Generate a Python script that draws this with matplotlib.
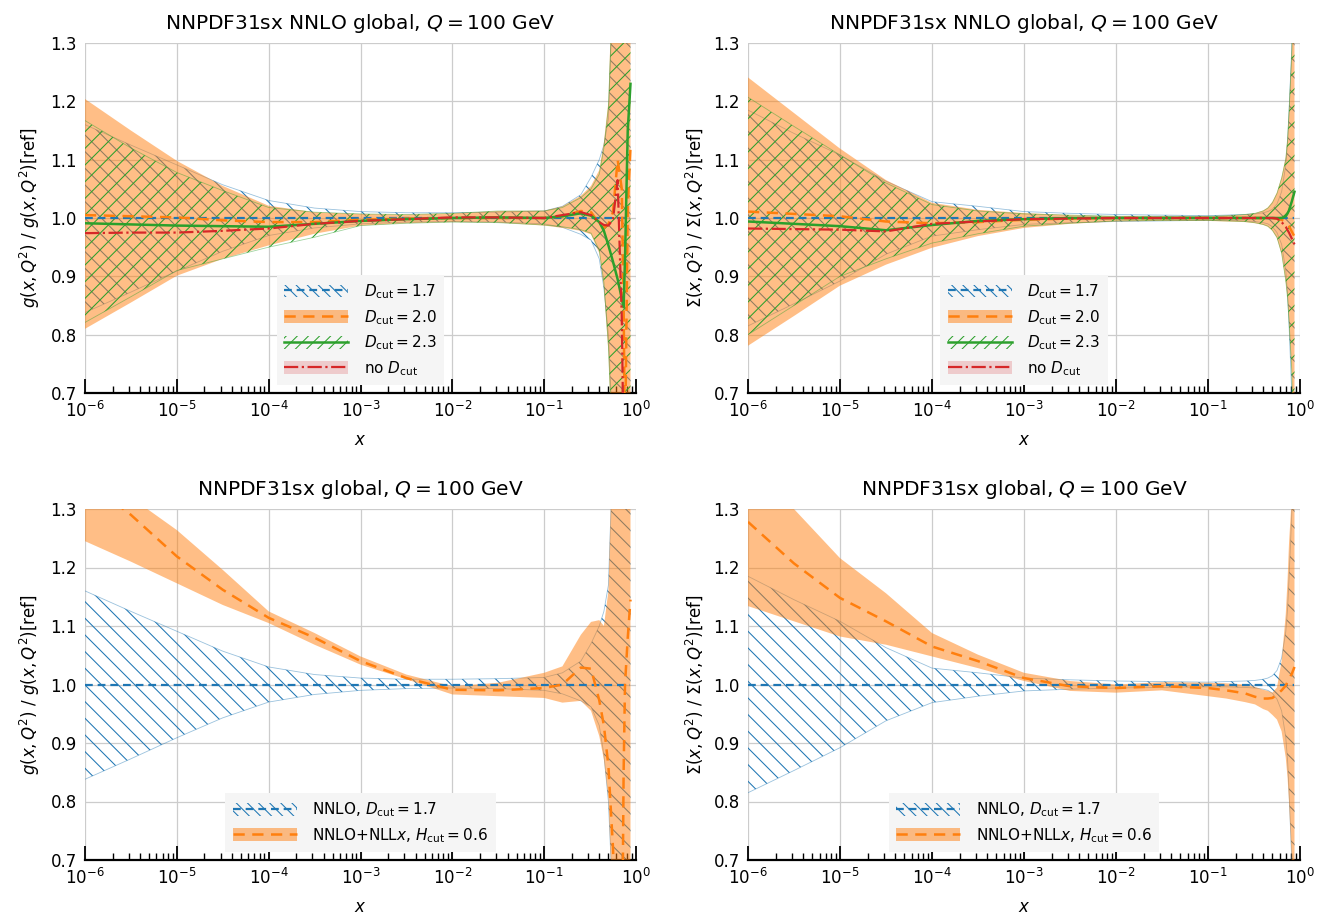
import numpy as np
import matplotlib
matplotlib.use("Agg")
import matplotlib.pyplot as plt
from matplotlib.patches import Patch
from matplotlib.lines import Line2D
from matplotlib.ticker import NullFormatter, FixedLocator

plt.rcParams['font.family'] = ['DejaVu Sans']
plt.rcParams['mathtext.fontset'] = 'dejavusans'
plt.rcParams['hatch.linewidth'] = 0.75

# ---------------- data ----------------
X = [1e-6, 3.16e-6, 1e-5, 3.16e-5, 1e-4, 3.16e-4, 1e-3, 3.16e-3, 1e-2, 3.16e-2,
     0.1, 0.158, 0.251, 0.324, 0.398, 0.447, 0.501, 0.562, 0.631, 0.700,
     0.733, 0.759, 0.813, 0.871]

# gluon, NNLO Dcut=1.7 (reference)
G17_c = [1.0] * 24
G17_hi = [1.160, 1.125, 1.091, 1.057, 1.030, 1.017, 1.011, 1.009, 1.009, 1.010,
          1.012, 1.020, 1.040, 1.070, 1.100, 1.125, 1.170, 1.400, 1.700, 2.0,
          2.2, 2.4, 2.8, 3.2]
G17_lo = [0.838, 0.873, 0.909, 0.943, 0.970, 0.983, 0.990, 0.993, 0.994, 0.993,
          0.990, 0.984, 0.972, 0.962, 0.930, 0.880, 0.800, 0.620, 0.400, 0.2,
          0.1, 0.0, -0.3, -0.6]
# gluon, NNLO Dcut=2.0
G20_c = [1.005, 1.003, 1.001, 0.996, 0.993, 0.993, 0.997, 0.999, 1.000, 1.000,
         1.000, 1.003, 1.012, 1.010, 0.990, 0.983, 0.990, 1.010, 1.100, 1.050,
         0.850, 0.600, 1.020, 1.120]
G20_hi = [1.204, 1.150, 1.098, 1.055, 1.021, 1.010, 1.007, 1.006, 1.008, 1.012,
          1.0125, 1.020, 1.038, 1.055, 1.082, 1.130, 1.200, 1.450, 1.700, 2.0,
          2.2, 2.4, 2.8, 3.2]
G20_lo = [0.810, 0.855, 0.901, 0.930, 0.953, 0.973, 0.987, 0.991, 0.993, 0.992,
          0.987, 0.983, 0.978, 0.972, 0.940, 0.880, 0.770, 0.550, 0.300, 0.0,
          -0.2, -0.4, -0.8, -1.2]
# gluon, NNLO Dcut=2.3
G23_c = [0.991, 0.989, 0.987, 0.986, 0.985, 0.990, 0.995, 0.998, 1.000, 1.001,
         1.000, 1.003, 1.008, 1.004, 0.993, 0.978, 0.953, 0.925, 0.895, 0.862,
         0.847, 0.930, 1.150, 1.230]
G23_hi = [1.167, 1.120, 1.078, 1.047, 1.018, 1.010, 1.007, 1.006, 1.008, 1.012,
          1.012, 1.018, 1.035, 1.050, 1.075, 1.120, 1.190, 1.400, 1.650, 1.9,
          2.1, 2.3, 2.7, 3.1]
G23_lo = [0.821, 0.865, 0.910, 0.930, 0.950, 0.967, 0.987, 0.991, 0.993, 0.992,
          0.988, 0.985, 0.980, 0.974, 0.945, 0.890, 0.780, 0.580, 0.350, 0.05,
          -0.15, -0.35, -0.75, -1.1]
# gluon, NNLO no Dcut
GN_c = [0.974, 0.975, 0.975, 0.978, 0.982, 0.990, 0.995, 0.998, 1.001, 1.001,
        1.000, 1.005, 1.010, 1.005, 0.993, 0.988, 0.987, 0.998, 1.065, 0.830,
        0.600, 0.450, 0.400, 0.450]
# gluon, NNLO+NLLx Hcut=0.6
GX_c = [1.350, 1.290, 1.219, 1.162, 1.114, 1.080, 1.040, 1.011, 0.991, 0.990,
        0.994, 1.000, 1.029, 1.027, 0.973, 0.930, 0.860, 0.720, 0.500, 0.450,
        0.850, 1.000, 1.080, 1.145]
GX_hi = [1.380, 1.320, 1.264, 1.196, 1.125, 1.088, 1.048, 1.017, 0.997, 1.003,
         1.020, 1.031, 1.085, 1.107, 1.110, 1.100, 1.160, 1.450, 1.700, 2.0,
         2.2, 2.4, 2.8, 3.2]
GX_lo = [1.245, 1.210, 1.173, 1.136, 1.105, 1.068, 1.034, 1.009, 0.983, 0.980,
         0.977, 0.969, 0.972, 0.955, 0.912, 0.872, 0.804, 0.600, 0.300, 0.0,
         -0.2, -0.4, -0.8, -1.2]

# singlet, NNLO Dcut=1.7 (reference)
S17_c = [1.0] * 24
S17_hi = [1.185, 1.145, 1.108, 1.063, 1.028, 1.020, 1.011, 1.008, 1.006, 1.005,
          1.004, 1.005, 1.006, 1.007, 1.009, 1.011, 1.015, 1.024, 1.045, 1.090,
          1.130, 1.180, 1.290, 1.500]
S17_lo = [0.815, 0.853, 0.892, 0.938, 0.969, 0.980, 0.989, 0.992, 0.994, 0.995,
          0.996, 0.996, 0.995, 0.994, 0.992, 0.990, 0.985, 0.975, 0.955, 0.910,
          0.870, 0.820, 0.700, 0.500]
S20_c = [1.011, 1.007, 1.003, 0.994, 0.991, 0.993, 0.997, 0.999, 1.000, 1.000,
         1.000, 1.000, 1.000, 1.000, 1.000, 1.000, 1.000, 0.999, 0.997, 0.993,
         0.989, 0.986, 0.977, 0.968]
S20_hi = [1.241, 1.180, 1.119, 1.065, 1.026, 1.014, 1.0085, 1.005, 1.003, 1.003,
          1.003, 1.004, 1.006, 1.008, 1.013, 1.018, 1.028, 1.044, 1.070, 1.105,
          1.140, 1.185, 1.290, 1.500]
S20_lo = [0.781, 0.832, 0.884, 0.920, 0.949, 0.969, 0.983, 0.990, 0.994, 0.995,
          0.995, 0.994, 0.993, 0.991, 0.988, 0.985, 0.978, 0.965, 0.938, 0.890,
          0.860, 0.820, 0.730, 0.500]
S23_c = [0.994, 0.990, 0.986, 0.979, 0.988, 0.995, 0.998, 1.000, 1.000, 1.000,
         1.000, 1.000, 1.000, 1.000, 1.000, 1.000, 1.000, 1.000, 1.000, 1.003,
         1.008, 1.013, 1.028, 1.045]
S23_hi = [1.207, 1.157, 1.108, 1.060, 1.023, 1.012, 1.007, 1.005, 1.003, 1.003,
          1.003, 1.004, 1.006, 1.008, 1.012, 1.017, 1.026, 1.042, 1.068, 1.100,
          1.135, 1.180, 1.280, 1.500]
S23_lo = [0.800, 0.850, 0.900, 0.930, 0.957, 0.973, 0.986, 0.991, 0.995, 0.996,
          0.996, 0.995, 0.994, 0.992, 0.989, 0.986, 0.979, 0.967, 0.940, 0.893,
          0.862, 0.825, 0.740, 0.500]
SN_c = [0.982, 0.981, 0.980, 0.977, 0.990, 0.994, 0.998, 0.999, 1.000, 1.000,
        1.000, 1.000, 1.000, 1.000, 1.000, 1.000, 1.000, 0.999, 0.993, 0.985,
        0.979, 0.975, 0.965, 0.955]
SX_c = [1.278, 1.207, 1.148, 1.108, 1.065, 1.040, 1.011, 0.997, 0.994, 0.997,
        0.994, 0.990, 0.985, 0.979, 0.976, 0.976, 0.977, 0.983, 0.990, 0.998,
        1.005, 1.010, 1.018, 1.030]
SX_hi = [1.360, 1.300, 1.216, 1.156, 1.088, 1.051, 1.020, 1.006, 1.000, 1.004,
         1.003, 1.002, 1.000, 0.996, 0.991, 0.989, 0.986, 0.995, 1.040, 1.120,
         1.180, 1.240, 1.320, 1.500]
SX_lo = [1.134, 1.108, 1.082, 1.068, 1.048, 1.028, 1.006, 0.989, 0.986, 0.990,
         0.980, 0.976, 0.970, 0.966, 0.958, 0.955, 0.948, 0.940, 0.920, 0.875,
         0.840, 0.800, 0.700, 0.500]

TITLES = [r"NNPDF31sx NNLO global, $Q = 100$ GeV", r"NNPDF31sx NNLO global, $Q = 100$ GeV",
          r"NNPDF31sx global, $Q = 100$ GeV", r"NNPDF31sx global, $Q = 100$ GeV"]
YLAB_G = r"$g(x, Q^2)$ / $g(x, Q^2)$[ref]"
YLAB_S = r"$\Sigma(x, Q^2)$ / $\Sigma(x, Q^2)$[ref]"
LAB_TOP = [r"$D_{\rm cut} = 1.7$", r"$D_{\rm cut} = 2.0$", r"$D_{\rm cut} = 2.3$",
           r"no $D_{\rm cut}$"]
LAB_BOT = [r"NNLO, $D_{\rm cut} = 1.7$", r"NNLO+NLL$x$, $H_{\rm cut} = 0.6$"]
YTICKS = [0.7, 0.8, 0.9, 1.0, 1.1, 1.2, 1.3]
XTICK_EXP = [-6, -5, -4, -3, -2, -1, 0]

# ---------------- style ----------------
BLUE = '#1f77b4'
ORANGE = '#ff7f0e'
GREEN = '#2ca02c'
RED = '#d62728'
BLUE_DASH = (3.5, 2.2)
OR_DASH = (4.5, 3.0)

fig = plt.figure(figsize=(13.25, 9.19), dpi=100)
W, H = 1325.0, 919.0
boxes = [(85, 43, 636, 393), (748, 43, 1300, 393), (85, 509, 636, 860), (748, 509, 1300, 860)]
axes = []
for (l, t, r, b) in boxes:
    axes.append(fig.add_axes([l / W, 1 - b / H, (r - l) / W, (b - t) / H]))


def style(ax, title, ylabel):
    ax.set_xscale('log')
    ax.set_xlim(1e-6, 1)
    ax.set_ylim(0.7, 1.3)
    ax.set_xticks([10.0 ** e for e in XTICK_EXP])
    ax.set_xticklabels([rf"$10^{{{e}}}$" for e in XTICK_EXP])
    minors = [m * 10.0 ** e for e in XTICK_EXP[:-1] for m in range(2, 10)]
    ax.xaxis.set_minor_locator(FixedLocator(minors))
    ax.xaxis.set_minor_formatter(NullFormatter())
    ax.set_yticks(YTICKS)
    ax.set_yticklabels([f"{v:.1f}" for v in YTICKS])
    ax.set_axisbelow(True)
    ax.grid(True, which='major', color='#cccccc', lw=0.9)
    for s in ['left', 'top', 'right']:
        ax.spines[s].set_visible(False)
    ax.spines['bottom'].set_linewidth(1.6)
    ax.spines['bottom'].set_color('black')
    ax.tick_params(axis='x', which='major', direction='in', length=10, width=1.3,
                   labelsize=12, pad=6)
    ax.tick_params(axis='x', which='minor', direction='in', length=5, width=1.0)
    ax.tick_params(axis='y', length=0, labelsize=12, pad=6)
    ax.set_title(title, fontsize=14.5, pad=10)
    ax.set_xlabel(r"$x$", fontsize=12, labelpad=7)
    ax.set_ylabel(ylabel, fontsize=12, labelpad=6)


def hatched_band(ax, lo, hi, color, hatch, z):
    ax.fill_between(X, lo, hi, facecolor='none', edgecolor=color, hatch=hatch,
                    lw=0, zorder=z)
    ax.plot(X, lo, color=color, lw=0.6, alpha=0.45, zorder=z)
    ax.plot(X, hi, color=color, lw=0.6, alpha=0.45, zorder=z)


def make_legend(ax, handles, labels):
    leg = ax.legend(handles, labels, loc='lower center', fontsize=11, handlelength=4.2,
                    handleheight=0.9, frameon=True, fancybox=False, facecolor='#f5f5f5',
                    edgecolor='none', framealpha=1.0, borderpad=0.5, labelspacing=0.45,
                    handletextpad=1.0)
    leg.set_zorder(20)


def top_panel(ax, c17, h17, l17, c20, h20, l20, c23, h23, l23, cn, title, ylabel):
    hatched_band(ax, l17, h17, BLUE, '\\\\', 2)
    ax.fill_between(X, l20, h20, facecolor=ORANGE, alpha=0.5, lw=0, zorder=3)
    hatched_band(ax, l23, h23, GREEN, '//', 4)
    ax.plot(X, c17, color=BLUE, lw=1.6, dashes=BLUE_DASH, zorder=6)
    ax.plot(X, c20, color=ORANGE, lw=1.8, dashes=OR_DASH, zorder=6)
    ax.plot(X, c23, color=GREEN, lw=1.8, zorder=7)
    ax.plot(X, cn, color=RED, lw=1.6, ls='-.', zorder=8)
    style(ax, title, ylabel)
    handles = [
        (Patch(facecolor='none', edgecolor=BLUE, hatch='\\\\\\', lw=0),
         Line2D([], [], color=BLUE, lw=1.6, dashes=BLUE_DASH)),
        (Patch(facecolor=ORANGE, alpha=0.5, lw=0),
         Line2D([], [], color=ORANGE, lw=1.8, dashes=OR_DASH)),
        (Patch(facecolor='none', edgecolor=GREEN, hatch='///', lw=0),
         Line2D([], [], color=GREEN, lw=1.8)),
        (Patch(facecolor=RED, alpha=0.2, lw=0),
         Line2D([], [], color=RED, lw=1.6, ls='-.')),
    ]
    make_legend(ax, handles, LAB_TOP)


def bot_panel(ax, c17, h17, l17, cx, hx, lx, title, ylabel):
    hatched_band(ax, l17, h17, BLUE, '\\\\', 2)
    ax.fill_between(X, lx, hx, facecolor=ORANGE, alpha=0.5, lw=0, zorder=3)
    ax.plot(X, c17, color=BLUE, lw=1.6, dashes=BLUE_DASH, zorder=6)
    ax.plot(X, cx, color=ORANGE, lw=1.8, dashes=OR_DASH, zorder=6)
    style(ax, title, ylabel)
    handles = [
        (Patch(facecolor='none', edgecolor=BLUE, hatch='\\\\\\', lw=0),
         Line2D([], [], color=BLUE, lw=1.6, dashes=BLUE_DASH)),
        (Patch(facecolor=ORANGE, alpha=0.5, lw=0),
         Line2D([], [], color=ORANGE, lw=1.8, dashes=OR_DASH)),
    ]
    make_legend(ax, handles, LAB_BOT)


top_panel(axes[0], G17_c, G17_hi, G17_lo, G20_c, G20_hi, G20_lo, G23_c, G23_hi, G23_lo,
          GN_c, TITLES[0], YLAB_G)
top_panel(axes[1], S17_c, S17_hi, S17_lo, S20_c, S20_hi, S20_lo, S23_c, S23_hi, S23_lo,
          SN_c, TITLES[1], YLAB_S)
bot_panel(axes[2], G17_c, G17_hi, G17_lo, GX_c, GX_hi, GX_lo, TITLES[2], YLAB_G)
bot_panel(axes[3], S17_c, S17_hi, S17_lo, SX_c, SX_hi, SX_lo, TITLES[3], YLAB_S)

fig.savefig("out.png", dpi=100)
